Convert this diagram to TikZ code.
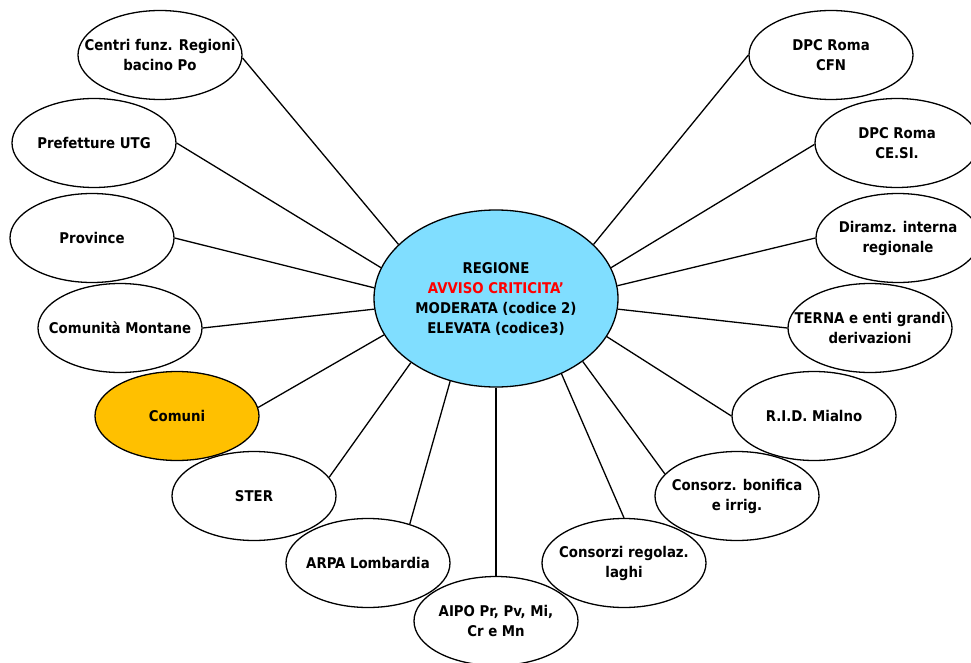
\documentclass[tikz,border=0pt]{standalone}
\usepackage{fontspec}
\setmainfont{DejaVu Sans Condensed}
\usetikzlibrary{shapes.geometric}
\definecolor{hubblue}{RGB}{128,222,255}
\definecolor{orangec}{RGB}{255,192,0}
\begin{document}
\begin{tikzpicture}[x=1pt,y=-1pt,
  font=\fontsize{14.8}{20}\selectfont\bfseries,
  bub/.style={ellipse, draw=black, line width=1.3pt, minimum width=164pt, minimum height=89pt, inner sep=0pt},
  lab/.style={align=center, inner sep=0pt},
  hub/.style={ellipse, draw=black, line width=1.3pt, fill=hubblue, minimum width=244pt, minimum height=177pt, inner sep=0pt},
  link/.style={draw=black, line width=1.3pt}]
\useasboundingbox (0,0) rectangle (971,663);
\node[hub, label={[lab]center:REGIONE\\\textcolor{red}{AVVISO CRITICITA'}\\MODERATA (codice 2)\\ELEVATA (codice3)}] (reg) at (496,298.5) {};
\node[bub, label={[lab]center:Centri funz. Regioni\\bacino Po}] (centri) at (160,55) {};
\node[bub, label={[lab]center:Prefetture UTG}] (pref) at (94,143) {};
\node[bub, label={[lab]center:Province}] (prov) at (92,238) {};
\node[bub, label={[lab]center:Comunità Montane}] (cm) at (120,328) {};
\node[bub, fill=orangec, label={[lab]center:Comuni}] (comuni) at (177,416) {};
\node[bub, label={[lab]center:STER}] (ster) at (254,496) {};
\node[bub, label={[lab]center:ARPA Lombardia}] (arpa) at (368,563) {};
\node[bub, label={[lab]center:AIPO Pr, Pv, Mi,\\Cr e Mn}] (aipo) at (496,621) {};
\node[bub, label={[lab]center:Consorzi regolaz.\\laghi}] (lag) at (624,563) {};
\node[bub, label={[lab]center:Consorz. bonifica\\e irrig.}] (bon) at (737,496) {};
\node[bub, label={[lab]center:R.I.D. Mialno}] (rid) at (814,416) {};
\node[bub, label={[lab]center:TERNA e enti grandi\\derivazioni}] (terna) at (870,328) {};
\node[bub, label={[lab]center:Diramz. interna\\regionale}] (dir) at (898,238) {};
\node[bub, label={[lab]center:DPC Roma\\CE.SI.}] (cesi) at (897,143) {};
\node[bub, label={[lab]center:DPC Roma\\CFN}] (cfn) at (831,55) {};
\draw[link] (reg.151) -- (centri.358);
\draw[link] (reg.165) -- (pref.0);
\draw[link] (reg.175) -- (prov.0);
\draw[link] (reg.185) -- (cm.0);
\draw[link] (reg.198) -- (comuni.6);
\draw[link] (reg.217) -- (ster.14);
\draw[link] (reg.241) -- (arpa.43);
\draw[link] (reg.270) -- (aipo.90);
\draw[link] (reg.311) -- (lag.90);
\draw[link] (reg.324) -- (bon.163);
\draw[link] (reg.341) -- (rid.180);
\draw[link] (reg.355) -- (terna.180);
\draw[link] (reg.6) -- (dir.180);
\draw[link] (reg.15) -- (cesi.181);
\draw[link] (reg.29) -- (cfn.180);
\end{tikzpicture}
\end{document}
